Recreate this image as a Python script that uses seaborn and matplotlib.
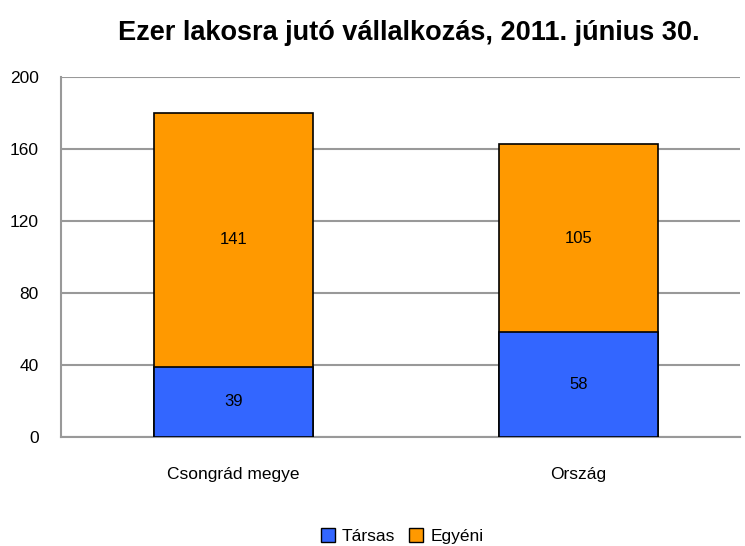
import numpy as np
import pandas as pd
import matplotlib
matplotlib.use("Agg")
import matplotlib.pyplot as plt
import seaborn as sns
from matplotlib.patches import Patch

# -------------------------
# DATA
# -------------------------
categories = ["Csongrád megye", "Ország"]
tarsas = [39, 58]
egyeni = [141, 105]
series_names = ["Társas", "Egyéni"]
y_ticks = [0, 40, 80, 120, 160, 200]

BLUE = "#3366FF"
ORANGE = "#FF9900"
GRID = "#999999"

sns.set_style("white")
plt.rcParams["font.family"] = ["Liberation Sans", "DejaVu Sans"]
plt.rcParams["text.color"] = "black"
plt.rcParams["xtick.labelcolor"] = "black"
plt.rcParams["ytick.labelcolor"] = "black"

df = pd.DataFrame({
    "cat": categories,
    "tarsas": tarsas,
    "egyeni": egyeni,
})
df["total"] = df["tarsas"] + df["egyeni"]

fig = plt.figure(figsize=(7.45, 5.46), dpi=100)
ax = fig.add_axes([0.082, 0.2, 0.911, 0.659])

# stacked: total first (orange), then blue on top of it
sns.barplot(data=df, x="cat", y="total", color=ORANGE, width=0.46,
            edgecolor="black", linewidth=1.2, saturation=1, ax=ax, zorder=3)
sns.barplot(data=df, x="cat", y="tarsas", color=BLUE, width=0.46,
            edgecolor="black", linewidth=1.2, saturation=1, ax=ax, zorder=3)

for i, row in df.iterrows():
    ax.text(i, row["tarsas"] / 2, str(row["tarsas"]), ha="center", va="center",
            fontsize=12, color="black", zorder=4)
    ax.text(i, row["tarsas"] + row["egyeni"] / 2, str(row["egyeni"]),
            ha="center", va="center", fontsize=12, color="black", zorder=4)

ax.set_xlim(-0.5, 1.468)
ax.set_ylim(0, 200)
ax.set_yticks(y_ticks)
ax.yaxis.grid(True, color=GRID, linewidth=1.5, zorder=0)
ax.set_axisbelow(True)
ax.set_xlabel("")
ax.set_ylabel("")

for s in ["top", "right"]:
    ax.spines[s].set_visible(False)
for s in ["left", "bottom"]:
    ax.spines[s].set_color(GRID)
    ax.spines[s].set_linewidth(1.5)

ax.tick_params(axis="y", length=8, width=1.5, color=GRID, labelsize=12.5, pad=8)
ax.tick_params(axis="x", length=0, labelsize=12.5, pad=22)
ax.set_xticks([-0.5, 0.5], minor=True)
ax.tick_params(axis="x", which="minor", length=8, width=1.5, color=GRID)

fig.text(0.549, 0.94, "Ezer lakosra jutó vállalkozás, 2011. június 30.",
         fontsize=19.5, fontweight="bold", ha="center", va="center", color="black")

handles = [Patch(facecolor=BLUE, edgecolor="black", label=series_names[0]),
           Patch(facecolor=ORANGE, edgecolor="black", label=series_names[1])]
fig.legend(handles=handles, loc="lower center", bbox_to_anchor=(0.54, -0.025),
           ncol=2, frameon=False, fontsize=12.5, handlelength=0.8,
           handleheight=0.8, handletextpad=0.4, columnspacing=0.8)

plt.savefig("out.png", dpi=100)
plt.close()
